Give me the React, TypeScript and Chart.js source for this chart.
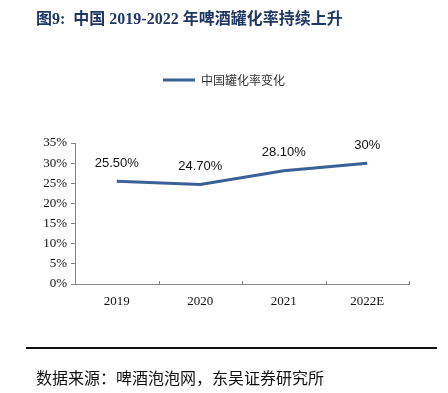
import React, { useEffect, useRef } from "react";
import { Chart, registerables } from "chart.js";

Chart.register(...registerables);

const categories = ["2019", "2020", "2021", "2022E"];
const canRate = [25.5, 24.7, 28.1, 30];
const valueLabels = ["25.50%", "24.70%", "28.10%", "30%"];
const seriesName = "中国罐化率变化";
const titleText = "图9:  中国 2019-2022 年啤酒罐化率持续上升";
const sourceText = "数据来源：啤酒泡泡网，东吴证券研究所";

const LINE_COLOR = "#3b6096";
const AXIS_COLOR = "#868686";

const labelPlugin = {
  id: "valueLabels",
  afterLayout(chart: any) {
    const lg = chart.legend;
    if (lg) {
      lg.left += 19.5;
      lg.right += 19.5;
    }
  },
  afterDatasetsDraw(chart: any) {
    const ctx = chart.ctx;
    const meta = chart.getDatasetMeta(0);
    ctx.save();
    ctx.font = "13px 'Liberation Sans', Arial, sans-serif";
    ctx.fillStyle = "#111";
    ctx.textAlign = "center";
    ctx.textBaseline = "middle";
    meta.data.forEach((pt: any, i: number) => {
      ctx.fillText(valueLabels[i], pt.x, pt.y - 18);
    });
    const xs = chart.scales.x;
    const bottom = chart.chartArea.bottom;
    ctx.strokeStyle = AXIS_COLOR;
    ctx.lineWidth = 1;
    for (let i = 0; i < categories.length; i++) {
      const a = xs.getPixelForValue(i);
      const b = i + 1 < categories.length ? xs.getPixelForValue(i + 1) : a + (a - xs.getPixelForValue(i - 1));
      const m = Math.round((a + b) / 2) + 0.5;
      ctx.beginPath();
      ctx.moveTo(m, bottom);
      ctx.lineTo(m, bottom - 3);
      ctx.stroke();
    }
    ctx.restore();
  },
};

const legendSpacer = {
  id: "legendSpacer",
  beforeInit(chart: any) {
    const orig = chart.legend.fit;
    chart.legend.fit = function () {
      orig.bind(chart.legend)();
      this.height = 79;
    };
  },
};

export default function App() {
  const ref = useRef<HTMLCanvasElement>(null);
  useEffect(() => {
    const chart = new Chart(ref.current!, {
      type: "line",
      data: {
        labels: categories,
        datasets: [
          {
            label: seriesName,
            data: canRate,
            borderColor: LINE_COLOR,
            backgroundColor: LINE_COLOR,
            borderWidth: 3,
            pointRadius: 0,
            tension: 0,
          },
        ],
      },
      options: {
        animation: false,
        responsive: false,
        maintainAspectRatio: false,
        layout: { padding: { top: 64, left: 0, right: 39, bottom: 83 } },
        plugins: {
          tooltip: { enabled: false },
          legend: {
            display: true,
            position: "top",
            labels: {
              boxWidth: 32,
              boxHeight: 3,
              padding: 10,
              color: "#333",
              font: { size: 12, family: "'Noto Sans CJK SC', sans-serif" },
              generateLabels: (chart: any) =>
                chart.data.datasets.map((ds: any, i: number) => ({
                  text: ds.label,
                  fillStyle: LINE_COLOR,
                  strokeStyle: LINE_COLOR,
                  lineWidth: 0,
                  datasetIndex: i,
                  fontColor: "#333",
                })),
            },
          },
        },
        scales: {
          x: {
            offset: true,
            grid: { display: false, drawOnChartArea: false },
            border: { color: AXIS_COLOR, width: 1 },
            ticks: {
              color: "#111",
              padding: 2,
              maxRotation: 0,
              font: { size: 13, family: "'Liberation Serif', 'Times New Roman', serif" },
            },
            afterFit(scale: any) {
              scale.height = 26;
            },
          },
          y: {
            min: 0,
            max: 35,
            grid: { drawOnChartArea: false, drawTicks: true, tickLength: 4, color: AXIS_COLOR },
            border: { color: AXIS_COLOR, width: 1 },
            ticks: {
              stepSize: 5,
              color: "#111",
              padding: 4,
              font: { size: 13, family: "'Liberation Serif', 'Times New Roman', serif" },
              callback: (v: any) => v + "%",
            },
            afterFit(scale: any) {
              scale.width = 75;
            },
          },
        },
      },
      plugins: [labelPlugin, legendSpacer],
    });
    return () => chart.destroy();
  }, []);

  return (
    <div style={{ position: "absolute", left: 0, top: 0, width: 448, height: 393, background: "#fff" }}>
      <canvas ref={ref} width={448} height={393} style={{ position: "absolute", left: 0, top: 0 }} />
      <div
        style={{
          position: "absolute",
          left: 36,
          top: 5,
          fontSize: 16,
          fontWeight: "bold",
          color: "#1f3763",
          whiteSpace: "pre",
          fontFamily: "'Liberation Serif', 'Noto Sans CJK SC', serif",
        }}
      >
        {titleText}
      </div>
      <div
        style={{
          position: "absolute",
          left: 26,
          top: 347,
          width: 411,
          height: 2,
          background: "#111",
        }}
      />
      <div
        style={{
          position: "absolute",
          left: 36,
          top: 365,
          fontSize: 16,
          color: "#111",
          whiteSpace: "pre",
          fontFamily: "'Noto Sans CJK SC', sans-serif",
        }}
      >
        {sourceText}
      </div>
    </div>
  );
}
